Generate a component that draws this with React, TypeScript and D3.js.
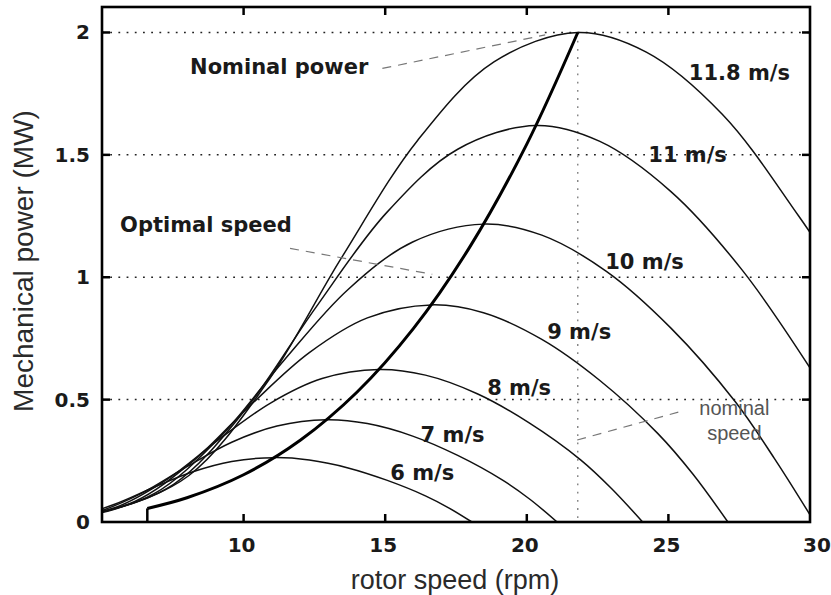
import React from "react";
import * as d3 from "d3";

// ---- data (rotor speed in rpm, mechanical power in MW) ----
const windSpeeds = ["6 m/s", "7 m/s", "8 m/s", "9 m/s", "10 m/s", "11 m/s", "11.8 m/s"];

const curve6: [number, number][] = [
  [2.05, 0.003], [2.74, 0.0066], [4.11, 0.025], [5.47, 0.0736], [6.84, 0.142], [8.21, 0.205],
  [9.58, 0.247], [11.09, 0.263], [12.32, 0.253], [13.69, 0.221], [15.05, 0.171], [16.42, 0.107],
  [17.24, 0.058], [18.06, 0],
];
const curve7: [number, number][] = [
  [2.4, 0.005], [3.19, 0.0104], [4.79, 0.0397], [6.39, 0.117], [7.98, 0.225], [9.58, 0.326],
  [11.18, 0.392], [12.93, 0.4175], [14.37, 0.402], [15.97, 0.351], [17.56, 0.272], [19.16, 0.17],
  [20.12, 0.092], [21.07, 0],
];
const curve8: [number, number][] = [
  [2.74, 0.0075], [3.65, 0.0156], [5.47, 0.0592], [7.3, 0.1745], [9.12, 0.3366], [10.95, 0.486],
  [12.77, 0.586], [14.78, 0.623], [16.42, 0.6], [18.25, 0.524], [20.07, 0.406], [21.9, 0.254],
  [22.99, 0.137], [24.09, 0],
];
const curve9: [number, number][] = [
  [3.08, 0.0106], [4.11, 0.0222], [6.16, 0.0843], [8.21, 0.2485], [10.26, 0.479], [12.32, 0.692],
  [14.37, 0.834], [16.63, 0.887], [18.47, 0.855], [20.53, 0.746], [22.58, 0.578], [24.63, 0.361],
  [25.87, 0.195], [27.1, 0],
];
const curve10: [number, number][] = [
  [3.42, 0.0146], [4.56, 0.0304], [6.84, 0.1156], [9.12, 0.341], [11.4, 0.657], [13.68, 0.949],
  [15.97, 1.144], [18.48, 1.217], [20.53, 1.172], [22.81, 1.024], [25.09, 0.792], [27.37, 0.49],
  [28.74, 0.26], [30.05, 0.02],
];
const curve11: [number, number][] = [
  [3.76, 0.0194], [5.02, 0.0405], [7.53, 0.154], [10.03, 0.454], [12.54, 0.875], [15.05, 1.264],
  [17.56, 1.523], [20.32, 1.62], [22.58, 1.555], [25.09, 1.35], [27.6, 1.03], [30.11, 0.61],
];
const curve118: [number, number][] = [
  [4.04, 0.024], [5.38, 0.05], [8.07, 0.19], [10.77, 0.56], [13.46, 1.08], [16.15, 1.56],
  [18.84, 1.88], [21.8, 2.0], [24.22, 1.92], [26.91, 1.665], [29.6, 1.25], [32.3, 0.78],
];
const powerCurves = [curve6, curve7, curve8, curve9, curve10, curve11, curve118];

// optimal-speed (maximum power point) curve
const optimalCurve: [number, number][] = [
  [6.6, 0.0555], [8, 0.099], [10, 0.193], [12, 0.334], [14, 0.53], [16, 0.791], [18, 1.126],
  [20, 1.544], [21.8, 2.0],
];
const cutIn: [number, number][] = [[6.6, 0], [6.6, 0.0555]];

const xTicks = [10, 15, 20, 25, 30];
const xTickMarks = [10, 15, 20, 25];
const yTicks = [0, 0.5, 1, 1.5, 2];
const yTickMarks = [0.5, 1, 1.5, 2];
const yTickLabels = ["0", "0.5", "1", "1.5", "2"];
const nominalSpeed = 21.8;

// label anchor points (data units)
const curveLabelPos: [number, number][] = [
  [15.18, 0.2], [16.25, 0.355], [18.6, 0.547], [20.72, 0.776], [22.77, 1.061], [24.29, 1.498], [25.72, 1.833],
];
const nominalPowerLine: [number, number][] = [[14.9, 1.853], [20.65, 1.99]];
const optimalSpeedLine: [number, number][] = [[11.64, 1.118], [16.66, 1.012]];
const nominalSpeedLine: [number, number][] = [[21.78, 0.335], [25.35, 0.449]];

const W = 831;
const H = 595;
const left = 102;
const right = 810;
const top = 7;
const bottom = 522;

export default function App() {
  const x = d3.scaleLinear().domain([5, 30]).range([left, right]);
  const y = d3.scaleLinear().domain([0, 2.1]).range([bottom, top + 1]);
  const line = d3
    .line<[number, number]>()
    .x((d) => x(d[0]))
    .y((d) => y(d[1]))
    .curve(d3.curveCatmullRom.alpha(0.5));
  const straight = d3
    .line<[number, number]>()
    .x((d) => x(d[0]))
    .y((d) => y(d[1]));

  const bold = "'DejaVu Sans', Verdana, sans-serif";
  const sans = "'Liberation Sans', Arial, sans-serif";

  return (
    <svg
      width={W}
      height={H}
      style={{ position: "absolute", left: 0, top: 0, background: "#fff" }}
    >
      <defs>
        <clipPath id="plot">
          <rect x={left} y={top} width={right - left} height={bottom - top} />
        </clipPath>
      </defs>
      {/* grid */}
      {yTickMarks.map((t) => (
        <line
          key={"g" + t}
          x1={left}
          x2={right}
          y1={y(t)}
          y2={y(t)}
          stroke="#222"
          strokeWidth={1.5}
          strokeDasharray="1.8,6.4"
        />
      ))}
      <line
        x1={x(nominalSpeed)}
        x2={x(nominalSpeed)}
        y1={y(2)}
        y2={bottom}
        stroke="#777"
        strokeWidth={1.3}
        strokeDasharray="1.8,6.4"
      />
      {/* curves */}
      <g clipPath="url(#plot)" fill="none">
        {powerCurves.map((c, i) => (
          <path key={windSpeeds[i]} d={line(c) ?? ""} stroke="#111" strokeWidth={1.5} />
        ))}
        <path d={line(optimalCurve) ?? ""} stroke="#000" strokeWidth={3} />
        <path d={straight(cutIn) ?? ""} stroke="#000" strokeWidth={2.5} />
      </g>
      {/* annotation leader lines */}
      {[nominalPowerLine, optimalSpeedLine, nominalSpeedLine].map((l, i) => (
        <path
          key={"a" + i}
          d={straight(l) ?? ""}
          stroke="#777"
          strokeWidth={1.2}
          strokeDasharray="9,7"
          fill="none"
        />
      ))}
      {/* frame */}
      <rect
        x={left}
        y={top}
        width={right - left}
        height={bottom - top}
        fill="none"
        stroke="#000"
        strokeWidth={2.6}
      />
      {/* ticks */}
      {xTickMarks.map((t) => (
        <g key={"xt" + t}>
          <line x1={x(t)} x2={x(t)} y1={bottom} y2={bottom - 8} stroke="#000" strokeWidth={2.5} />
          <line x1={x(t)} x2={x(t)} y1={top} y2={top + 8} stroke="#000" strokeWidth={2.5} />
        </g>
      ))}
      {yTickMarks.map((t) => (
        <g key={"yt" + t}>
          <line x1={left} x2={left + 8} y1={y(t)} y2={y(t)} stroke="#000" strokeWidth={2.5} />
          <line x1={right} x2={right - 8} y1={y(t)} y2={y(t)} stroke="#000" strokeWidth={2.5} />
        </g>
      ))}
      {/* tick labels */}
      {xTicks.map((t, i) => (
        <text
          key={"xl" + t}
          x={x(t) + (i === xTicks.length - 1 ? 7 : -2)}
          y={545}
          textAnchor="middle"
          dominantBaseline="central"
          fontFamily={bold}
          fontWeight="bold"
          fontSize={20}
          fill="#1a1a1a"
        >
          {t}
        </text>
      ))}
      {yTicks.map((t, i) => (
        <text
          key={"yl" + t}
          x={90}
          y={y(t)}
          textAnchor="end"
          dominantBaseline="central"
          fontFamily={bold}
          fontWeight="bold"
          fontSize={20}
          fill="#1a1a1a"
        >
          {yTickLabels[i]}
        </text>
      ))}
      {/* axis titles */}
      <text
        x={455}
        y={580}
        textAnchor="middle"
        dominantBaseline="central"
        fontFamily={sans}
        fontSize={27}
        fill="#2a2a2a"
      >
        rotor speed (rpm)
      </text>
      <text
        transform={`translate(23, 261) rotate(-90)`}
        textAnchor="middle"
        dominantBaseline="central"
        fontFamily={sans}
        fontSize={28}
        fill="#2a2a2a"
      >
        Mechanical power (MW)
      </text>
      {/* curve labels */}
      {windSpeeds.map((s, i) => (
        <text
          key={"cl" + s}
          x={x(curveLabelPos[i][0])}
          y={y(curveLabelPos[i][1])}
          dominantBaseline="central"
          fontFamily={bold}
          fontWeight="bold"
          fontSize={21}
          fill="#1a1a1a"
        >
          {s}
        </text>
      ))}
      <text
        x={x(8.11)}
        y={y(1.857)}
        dominantBaseline="central"
        fontFamily={bold}
        fontWeight="bold"
        fontSize={21}
        fill="#1a1a1a"
      >
        Nominal power
      </text>
      <text
        x={x(5.64)}
        y={y(1.212)}
        dominantBaseline="central"
        fontFamily={bold}
        fontWeight="bold"
        fontSize={21}
        fill="#1a1a1a"
      >
        Optimal speed
      </text>
      <text
        x={x(27.33)}
        y={y(0.465)}
        textAnchor="middle"
        dominantBaseline="central"
        fontFamily={sans}
        fontSize={20}
        fill="#555"
      >
        nominal
      </text>
      <text
        x={x(27.33)}
        y={y(0.363)}
        textAnchor="middle"
        dominantBaseline="central"
        fontFamily={sans}
        fontSize={20}
        fill="#555"
      >
        speed
      </text>
    </svg>
  );
}
